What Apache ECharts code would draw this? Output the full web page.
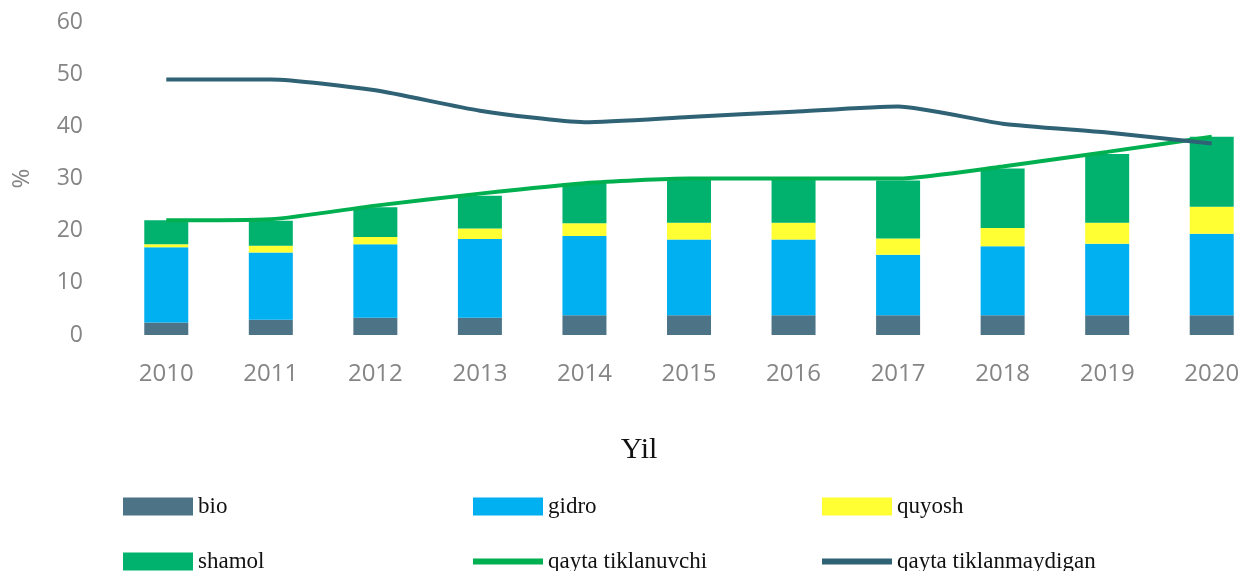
<!DOCTYPE html>
<html>
<head>
<meta charset="utf-8">
<script src="https://cdn.jsdelivr.net/npm/echarts@6/dist/echarts.min.js"></script>
<style>
html, body { margin: 0; padding: 0; background: #fff; overflow: hidden; }
#chart { width: 1272px; height: 571px; }
</style>
</head>
<body>
<div id="chart"></div>
<script>
var years = ['2010', '2011', '2012', '2013', '2014', '2015', '2016', '2017', '2018', '2019', '2020'];
var bio = [2.4, 2.9, 3.3, 3.3, 3.8, 3.8, 3.8, 3.8, 3.8, 3.8, 3.8];
var gidro = [14.4, 12.9, 14.1, 15.1, 15.2, 14.5, 14.5, 11.6, 13.2, 13.7, 15.6];
var quyosh = [0.6, 1.3, 1.4, 2.0, 2.4, 3.2, 3.2, 3.1, 3.5, 4.0, 5.2];
var shamol = [4.6, 4.8, 5.7, 6.3, 7.7, 8.5, 8.5, 11.1, 11.4, 13.2, 13.4];
var qaytaTiklanuvchi = [22, 22.2, 24.8, 27.1, 29.1, 30, 30, 30, 32.3, 35.1, 38];
var qaytaTiklanmaydigan = [49, 49, 46.9, 43, 40.8, 41.8, 42.8, 43.8, 40.5, 38.8, 36.7];

var axisFont = 'Open Sans';
var serif = 'Liberation Serif';
var grey = '#858585';

var legendText = {fontFamily: serif, fontSize: 23, color: '#111'};
var lineIcon = 'path://M0,0H70V6H0Z';
// one legend per item so the three columns line up like the original
function legendItem(left, top, name, icon) {
    return {
        left: left,
        top: top,
        itemWidth: 70,
        itemHeight: 18,
        itemGap: 6,
        icon: icon || 'rect',
        textStyle: legendText,
        data: [name]
    };
}

var option = {
    animation: false,
    grid: {left: 114, top: 22, width: 1150, height: 313},
    legend: [
        legendItem(118, 490, 'bio'),
        legendItem(468, 490, 'gidro'),
        legendItem(817, 490, 'quyosh'),
        legendItem(118, 545, 'shamol'),
        legendItem(468, 545, 'qayta tiklanuvchi', lineIcon),
        legendItem(817, 545, 'qayta tiklanmaydigan', lineIcon)
    ],
    xAxis: {
        type: 'category',
        data: years,
        name: 'Yil',
        nameLocation: 'middle',
        nameGap: 100,
        nameTextStyle: {fontFamily: serif, fontSize: 30, color: '#111', padding: [0, 100, 0, 0]},
        axisLine: {show: false},
        axisTick: {show: false},
        axisLabel: {fontFamily: axisFont, fontSize: 24, color: grey, margin: 27}
    },
    yAxis: {
        type: 'value',
        min: 0,
        max: 60,
        interval: 10,
        name: '%',
        nameLocation: 'middle',
        nameRotate: 90,
        nameGap: 80,
        nameTextStyle: {fontFamily: axisFont, fontSize: 24, color: grey},
        splitLine: {show: false},
        axisLine: {show: false},
        axisTick: {show: false},
        axisLabel: {fontFamily: axisFont, fontSize: 23, color: grey, margin: 31}
    },
    series: [
        {name: 'bio', type: 'bar', stack: 'e', barWidth: 44, data: bio, itemStyle: {color: '#4d7486'}},
        {name: 'gidro', type: 'bar', stack: 'e', data: gidro, itemStyle: {color: '#00b0f0'}},
        {name: 'quyosh', type: 'bar', stack: 'e', data: quyosh, itemStyle: {color: '#ffff33'}},
        {name: 'shamol', type: 'bar', stack: 'e', data: shamol, itemStyle: {color: '#00b26e'}},
        {
            name: 'qayta tiklanuvchi', type: 'line', data: qaytaTiklanuvchi,
            symbol: 'none', smooth: 0.2,
            lineStyle: {color: '#00b050', width: 4},
            itemStyle: {color: '#00b050'}
        },
        {
            name: 'qayta tiklanmaydigan', type: 'line', data: qaytaTiklanmaydigan,
            symbol: 'none', smooth: 0.2,
            lineStyle: {color: '#2f6275', width: 4},
            itemStyle: {color: '#2f6275'}
        }
    ]
};

var chart = echarts.init(document.getElementById('chart'));
chart.setOption(option);
</script>
</body>
</html>
